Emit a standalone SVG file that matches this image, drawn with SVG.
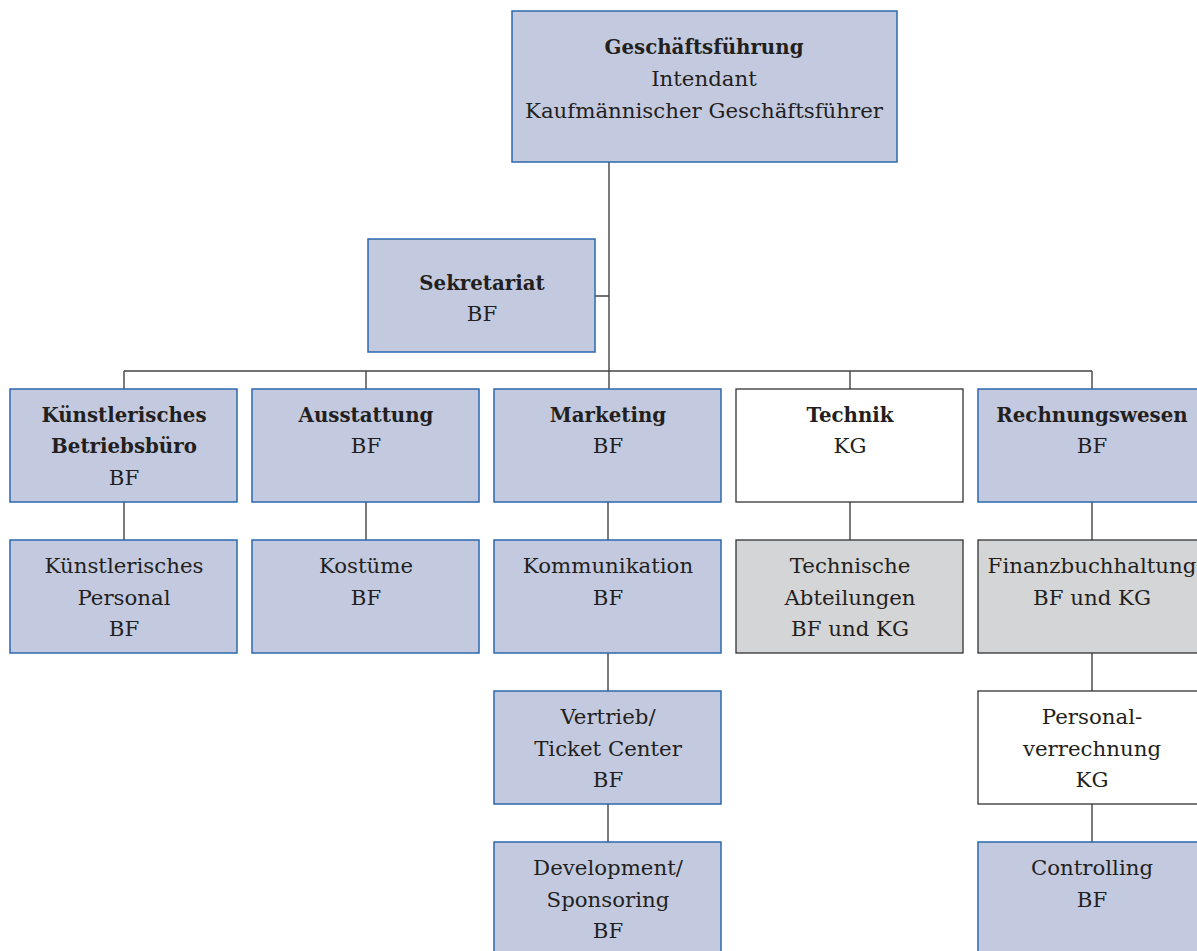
<svg xmlns="http://www.w3.org/2000/svg" width="1197" height="951" viewBox="0 0 1197 951">
<style>
.b{fill:#c3cadf;stroke:#2d67ad;stroke-width:1.5}
.g{fill:#d4d5d7;stroke:#333;stroke-width:1.3}
.w{fill:#fff;stroke:#333;stroke-width:1.3}
text{font-family:"DejaVu Serif","Liberation Serif",serif;font-size:21.3px;fill:#231f20;text-anchor:middle}
.t{font-weight:bold;font-size:19.8px}
.c{fill:none;stroke:#444;stroke-width:1.4}
</style>
<rect width="1197" height="951" fill="#fff"/>
<g id="connectors">
<path class="c" d="M609 162V389M595 296H609M124 371H1092M124 371V389M366 371V389M850 371V389M1092 371V389M124 502V540M366 502V540M608 502V540M850 502V540M1092 502V540M608 653V691M608 804V842M1092 653V691M1092 804V842"/>
</g>
<g id="n-gf"><rect class="b" x="512" y="11" width="385" height="151"/>
<text class="t" x="704" y="54">Geschäftsführung</text><text x="704" y="86">Intendant</text><text x="704" y="118">Kaufmännischer Geschäftsführer</text></g>
<g id="n-sek"><rect class="b" x="368" y="239" width="227" height="113"/>
<text class="t" x="482" y="290">Sekretariat</text><text x="482" y="321">BF</text></g>
<g id="n-kbb"><rect class="b" x="10" y="389" width="227" height="113"/>
<text class="t" x="124" y="422">Künstlerisches</text><text class="t" x="124" y="453">Betriebsbüro</text><text x="124" y="485">BF</text></g>
<g id="n-aus"><rect class="b" x="252" y="389" width="227" height="113"/>
<text class="t" x="366" y="422">Ausstattung</text><text x="366" y="453">BF</text></g>
<g id="n-mkt"><rect class="b" x="494" y="389" width="227" height="113"/>
<text class="t" x="608" y="422">Marketing</text><text x="608" y="453">BF</text></g>
<g id="n-tec"><rect class="w" x="736" y="389" width="227" height="113"/>
<text class="t" x="850" y="422">Technik</text><text x="850" y="453">KG</text></g>
<g id="n-rw"><rect class="b" x="978" y="389" width="227" height="113"/>
<text class="t" x="1092" y="422">Rechnungswesen</text><text x="1092" y="453">BF</text></g>
<g id="n-kp"><rect class="b" x="10" y="540" width="227" height="113"/>
<text x="124" y="573">Künstlerisches</text><text x="124" y="605">Personal</text><text x="124" y="636">BF</text></g>
<g id="n-kos"><rect class="b" x="252" y="540" width="227" height="113"/>
<text x="366" y="573">Kostüme</text><text x="366" y="605">BF</text></g>
<g id="n-kom"><rect class="b" x="494" y="540" width="227" height="113"/>
<text x="608" y="573">Kommunikation</text><text x="608" y="605">BF</text></g>
<g id="n-ta"><rect class="g" x="736" y="540" width="227" height="113"/>
<text x="850" y="573">Technische</text><text x="850" y="605">Abteilungen</text><text x="850" y="636">BF und KG</text></g>
<g id="n-fb"><rect class="g" x="978" y="540" width="227" height="113"/>
<text x="1092" y="573">Finanzbuchhaltung</text><text x="1092" y="605">BF und KG</text></g>
<g id="n-vt"><rect class="b" x="494" y="691" width="227" height="113"/>
<text x="608" y="724">Vertrieb/</text><text x="608" y="756">Ticket Center</text><text x="608" y="787">BF</text></g>
<g id="n-pv"><rect class="w" x="978" y="691" width="227" height="113"/>
<text x="1092" y="724">Personal-</text><text x="1092" y="756">verrechnung</text><text x="1092" y="787">KG</text></g>
<g id="n-dev"><rect class="b" x="494" y="842" width="227" height="113"/>
<text x="608" y="875">Development/</text><text x="608" y="907">Sponsoring</text><text x="608" y="938">BF</text></g>
<g id="n-con"><rect class="b" x="978" y="842" width="227" height="113"/>
<text x="1092" y="875">Controlling</text><text x="1092" y="907">BF</text></g>
</svg>
